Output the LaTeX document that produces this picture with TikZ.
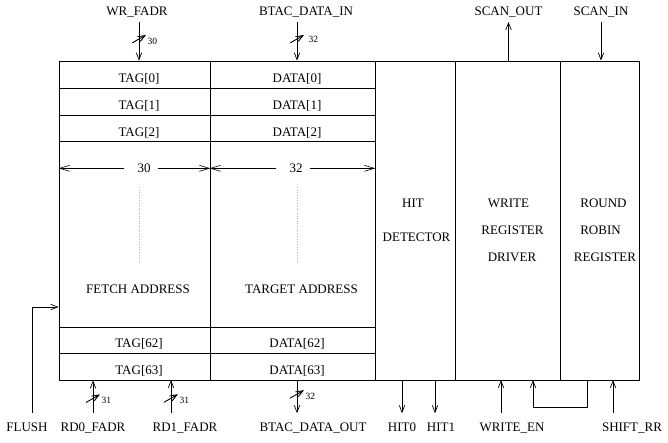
\documentclass[tikz,border=0pt]{standalone}
\usepackage{fontspec}
\setmainfont{Liberation Serif}
\usetikzlibrary{arrows.meta}

\begin{document}
\begin{tikzpicture}[x=1pt,y=-1pt,
  blk/.style={draw,line width=0.8pt,inner sep=0pt,minimum height=319pt},
  txt/.style={font=\fontsize{13}{15}\selectfont,inner sep=0pt,
              text height=8.6pt,text depth=0pt},
  port/.style={txt,inner ysep=6pt},
  lowport/.style={txt,inner ysep=9pt},
  bits/.style={font=\fontsize{9.5}{11}\selectfont,inner sep=0pt,
               text height=6.3pt,text depth=0pt},
  sig/.style={-{Straight Barb[length=7pt,width=5.5pt]},line width=0.7pt},
  dim/.style={-{Straight Barb[length=10pt,width=6pt]},line width=0.6pt},
  slash/.style={inner sep=0pt,minimum width=14pt,minimum height=8pt,
                path picture={\draw[line width=0.9pt]
                  (path picture bounding box.south west) --
                  (path picture bounding box.north east);}},
  dots/.style={gray!60,line width=0.4pt,dash pattern=on 0.6pt off 2pt}]
  \useasboundingbox (0,0) rectangle (668,442);

  % cam columns and control blocks
  \node[blk,minimum width=151pt] (tagcol) at (134.5,220.5) {};
  \node[blk,minimum width=165pt] (datacol) at (292.5,220.5) {};
  \node[blk,minimum width=80pt] (hit) at (415,220.5) {};
  \node[blk,minimum width=105pt] (wrd) at (507.5,220.5) {};
  \node[blk,minimum width=79pt] (rr) at (599.5,220.5) {};

  % entries
  \foreach \y in {88,115,141,327,353}
    \draw[line width=0.8pt] (tagcol.west |- 0,\y) -- (datacol.east |- 0,\y);
  \foreach \i/\y in {0/78.5,1/105.5,2/132,62/343.5,63/370} {
    \node[txt] (tag\i) at (139,\y) {TAG[\i]};
    \node[txt] (data\i) at (297,\y) {DATA[\i]};
  }

  % field widths
  \node[txt] (w30) at (144,168.3) {30};
  \node[txt] (w32) at (296,168.3) {32};
  \draw[dim,shorten <=13pt] (w30.west) -- (w30 -| tagcol.west);
  \draw[dim,shorten <=7pt] (w30.east) -- (w30 -| tagcol.east);
  \draw[dim,shorten <=13pt] (w32.west) -- (w32 -| datacol.west);
  \draw[dim,shorten <=7pt] (w32.east) -- (w32 -| datacol.east);
  \draw[dots] (tag0 |- 0,187) -- (tag0 |- 0,265);
  \draw[dots] (data0 |- 0,187) -- (data0 |- 0,265);

  \node[txt] (fetch) at (138,289.5) {FETCH ADDRESS};
  \node[txt] (target) at (301.5,289.5) {TARGET ADDRESS};

  \node[txt] (hitA) at (413,203.5) {HIT};
  \node[txt] (hitB) at (416.5,237) {DETECTOR};
  \node[txt] (wrdA) at (508.5,203.5) {WRITE};
  \node[txt] (wrdB) at (512.5,230) {REGISTER};
  \node[txt] (wrdC) at (512,257) {DRIVER};
  \node[txt] (rrA) at (603.5,203.5) {ROUND};
  \node[txt] (rrB) at (600.5,230) {ROBIN};
  \node[txt] (rrC) at (605,257) {REGISTER};

  % ports
  \node[port] (wrfadr) at (137,11.5) {WR\_FADR};
  \node[port] (btacin) at (306,11.5) {BTAC\_DATA\_IN};
  \node[port] (scanout) at (508.5,11.5) {SCAN\_OUT};
  \node[port] (scanin) at (601,11.5) {SCAN\_IN};

  \node[lowport] (flush) at (27,426.7) {FLUSH};
  \node[lowport] (rd0fadr) at (93,426.7) {RD0\_FADR};
  \node[lowport] (rd1fadr) at (185,426.7) {RD1\_FADR};
  \node[lowport] (btacout) at (313,426.7) {BTAC\_DATA\_OUT};
  \node[lowport] (hit0) at (402,426.7) {HIT0};
  \node[lowport] (hit1) at (441,426.7) {HIT1};
  \node[lowport] (writeen) at (512,426.7) {WRITE\_EN};
  \node[lowport] (shiftrr) at (632,426.7) {SHIFT\_RR};

  \foreach \n/\x in {rd1pin/171,hit1pin/435,wenpin/501,rrback/533,rrout/587,shiftpin/613}
    \coordinate (\n) at (\x,380);

  % buses
  \draw[sig] (tag0 |- wrfadr.south) -- node[slash,pos=0.44,
    label={[bits,label distance=1pt,yshift=-2pt]east:30}] {} (tag0 |- tagcol.north);
  \draw[sig] (data0 |- btacin.south) -- node[slash,pos=0.44,
    label={[bits,label distance=4pt]east:32}] {} (data0 |- datacol.north);
  \draw[sig] (rd0fadr) -- node[slash,pos=0.45,
    label={[bits,label distance=1pt,yshift=-2pt]east:31}] {} (rd0fadr |- tagcol.south);
  \draw[sig] (rd1pin |- rd1fadr.north) -- node[slash,pos=0.45,
    label={[bits,label distance=1pt,yshift=-2pt]east:31}] {} (rd1pin);
  \draw[sig] (data63 |- datacol.south) -- node[slash,pos=0.42,
    label={[bits,label distance=1pt,yshift=-2pt]east:32}] {} (data63 |- btacout.north);

  % single signals
  \draw[sig] (scanout |- wrd.north) -- (scanout);
  \draw[sig] (scanin) -- (scanin |- rr.north);
  \draw[sig] ([xshift=5pt]flush.north) |- (tagcol.west |- 0,307);
  \draw[sig] (hit0 |- hit.south) -- (hit0);
  \draw[sig] (hit1pin) -- (hit1pin |- hit1.north);
  \draw[sig] (wenpin |- writeen.north) -- (wenpin);
  \draw[sig] (rrout) -- ++(0,27) -| (rrback);
  \draw[sig] (shiftpin |- shiftrr.north) -- (shiftpin);
\end{tikzpicture}
\end{document}
